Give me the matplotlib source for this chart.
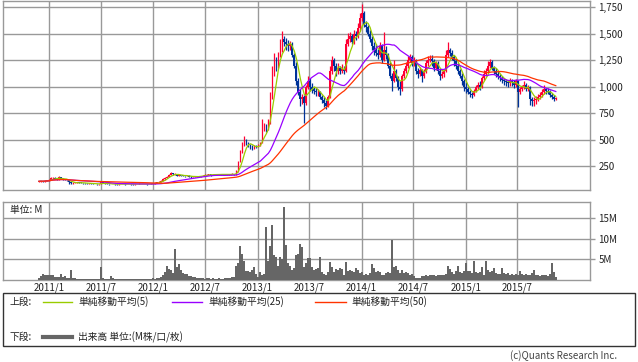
import numpy as np
import pandas as pd
import matplotlib
matplotlib.use('Agg')
import matplotlib.pyplot as plt
import matplotlib.dates as mdates
from matplotlib.patches import Rectangle
from matplotlib.lines import Line2D

plt.rcParams['font.family'] = ['Noto Sans CJK JP', 'DejaVu Sans']

start_date = '2010-11-26'

opens = [
    100, 105, 108, 104, 110, 112, 120, 135, 140, 128,
    125, 145, 130, 122, 118, 115, 95, 85, 90, 92,
    95, 92, 90, 88, 86, 85, 88, 84, 82, 80,
    78, 80, 95, 90, 82, 80, 78, 80, 79, 78,
    77, 78, 80, 79, 78, 80, 79, 78, 77, 78,
    80, 82, 80, 79, 80, 78, 80, 82, 85, 90,
    95, 100, 110, 125, 135, 150, 165, 180, 170, 175,
    160, 165, 160, 158, 155, 160, 150, 145, 148, 150,
    155, 150, 155, 160, 165, 168, 170, 165, 168, 170,
    172, 170, 172, 168, 170, 172, 170, 172, 175, 170,
    200, 290, 380, 460, 500, 470, 440, 430, 420, 440,
    430, 450, 470, 620, 640, 600, 660, 900, 1150, 1250,
    1200, 1300, 1350, 1450, 1420, 1400, 1380, 1400, 1300, 1200,
    1050, 950, 880, 900, 850, 1000, 1050, 1000, 980, 960,
    950, 950, 900, 870, 850, 820, 900, 1150, 1250, 1200,
    1150, 1180, 1150, 1170, 1150, 1400, 1450, 1480, 1420, 1500,
    1480, 1550, 1650, 1700, 1580, 1560, 1500, 1450, 1380, 1350,
    1320, 1300, 1380, 1250, 1350, 1300, 1200, 1100, 1050, 1150,
    1080, 1000, 980, 1100, 1150, 1200, 1250, 1280, 1220, 1250,
    1150, 1120, 1160, 1100, 1150, 1220, 1250, 1260, 1240, 1180,
    1220, 1150, 1100, 1120, 1150, 1300, 1350, 1320, 1280, 1240,
    1200, 1150, 1100, 1050, 1000, 980, 950, 930, 920, 960,
    1000, 1020, 1000, 1080, 1120, 1150, 1200, 1230, 1180, 1150,
    1120, 1100, 1080, 1060, 1050, 1040, 1030, 1050, 1040, 1020,
    1050, 950, 980, 1000, 1020, 980, 1000, 880, 860, 870,
    880, 900, 920, 950, 980, 960, 950, 920, 900, 880,
]

highs = [
    108, 112, 110, 114, 116, 125, 150, 148, 142, 132,
    158, 148, 134, 125, 122, 118, 98, 94, 96, 98,
    98, 95, 92, 90, 89, 92, 90, 86, 84, 82,
    84, 100, 96, 92, 85, 82, 83, 82, 81, 80,
    81, 83, 82, 81, 83, 82, 81, 80, 80, 83,
    85, 84, 82, 82, 82, 83, 85, 88, 94, 100,
    105, 118, 132, 142, 158, 172, 195, 182, 180, 178,
    172, 168, 164, 160, 165, 162, 154, 152, 155, 160,
    158, 160, 165, 170, 172, 175, 172, 172, 175, 176,
    175, 176, 175, 174, 176, 176, 176, 180, 178, 215,
    300, 400, 480, 535, 505, 480, 455, 445, 450, 452,
    460, 480, 690, 660, 650, 690, 950, 1200, 1320, 1280,
    1330, 1450, 1530, 1480, 1460, 1440, 1430, 1420, 1320, 1230,
    1080, 980, 930, 920, 1020, 1100, 1080, 1030, 1000, 990,
    980, 960, 920, 900, 870, 920, 1200, 1290, 1270, 1220,
    1220, 1200, 1210, 1200, 1450, 1510, 1520, 1500, 1540, 1530,
    1600, 1700, 1780, 1720, 1620, 1580, 1540, 1480, 1420, 1400,
    1360, 1420, 1400, 1520, 1380, 1320, 1230, 1130, 1250, 1170,
    1100, 1050, 1120, 1180, 1230, 1290, 1310, 1300, 1280, 1260,
    1180, 1190, 1170, 1170, 1250, 1290, 1300, 1300, 1260, 1240,
    1240, 1180, 1150, 1170, 1350, 1420, 1370, 1350, 1300, 1260,
    1220, 1170, 1130, 1070, 1040, 1000, 970, 950, 980, 1020,
    1040, 1050, 1100, 1160, 1180, 1240, 1265, 1250, 1200, 1180,
    1150, 1120, 1100, 1080, 1070, 1060, 1080, 1070, 1060, 1070,
    1060, 1000, 1020, 1050, 1030, 1020, 1010, 900, 900, 910,
    930, 950, 980, 1020, 990, 990, 970, 940, 920, 900,
]

lows = [
    98, 102, 100, 102, 106, 110, 118, 130, 125, 120,
    122, 128, 118, 114, 110, 80, 76, 82, 86, 88,
    88, 86, 84, 82, 82, 82, 80, 78, 76, 74,
    75, 78, 86, 78, 76, 75, 76, 76, 75, 74,
    74, 76, 76, 75, 76, 76, 75, 74, 75, 76,
    78, 78, 76, 77, 75, 76, 78, 80, 83, 88,
    92, 98, 108, 120, 132, 148, 162, 165, 165, 155,
    156, 155, 152, 150, 152, 145, 140, 142, 145, 148,
    146, 148, 152, 158, 162, 164, 160, 162, 165, 168,
    166, 168, 164, 165, 168, 166, 167, 170, 165, 168,
    195, 285, 370, 440, 450, 430, 415, 405, 415, 420,
    425, 440, 465, 580, 570, 590, 650, 880, 1100, 1150,
    1180, 1280, 1330, 1380, 1350, 1340, 1350, 1280, 1180, 1020,
    920, 820, 840, 660, 830, 980, 960, 940, 930, 910,
    910, 880, 850, 810, 790, 810, 890, 1120, 1150, 1100,
    1120, 1120, 1130, 1120, 1140, 1380, 1420, 1400, 1400, 1440,
    1460, 1530, 1620, 1560, 1520, 1480, 1420, 1350, 1300, 1290,
    1260, 1280, 1220, 1240, 1260, 1180, 1080, 960, 1040, 1050,
    970, 920, 960, 1080, 1130, 1180, 1230, 1200, 1200, 1120,
    1080, 1100, 1040, 1080, 1130, 1200, 1230, 1200, 1150, 1160,
    1120, 1060, 1080, 1090, 1140, 1280, 1290, 1250, 1200, 1170,
    1120, 1080, 1020, 960, 940, 930, 900, 890, 910, 950,
    980, 970, 990, 1060, 1100, 1130, 1180, 1160, 1120, 1090,
    1070, 1050, 1030, 1020, 1010, 1000, 1010, 1010, 990, 1000,
    810, 930, 960, 980, 960, 960, 830, 820, 820, 840,
    860, 880, 900, 930, 930, 930, 900, 880, 860, 870,
]

closes = [
    105, 108, 104, 110, 112, 120, 135, 140, 128, 125,
    145, 130, 122, 118, 115, 95, 85, 90, 92, 95,
    92, 90, 88, 86, 85, 88, 84, 82, 80, 78,
    80, 95, 90, 82, 80, 78, 80, 79, 78, 77,
    78, 80, 79, 78, 80, 79, 78, 77, 78, 80,
    82, 80, 79, 80, 78, 80, 82, 85, 90, 95,
    100, 110, 125, 135, 150, 165, 180, 170, 175, 160,
    165, 160, 158, 155, 160, 150, 145, 148, 150, 155,
    150, 155, 160, 165, 168, 170, 165, 168, 170, 172,
    170, 172, 168, 170, 172, 170, 172, 175, 170, 200,
    290, 380, 460, 500, 470, 440, 430, 420, 440, 430,
    450, 470, 620, 640, 600, 660, 900, 1150, 1250, 1200,
    1300, 1350, 1450, 1420, 1400, 1380, 1400, 1300, 1200, 1050,
    950, 880, 900, 850, 1000, 1050, 1000, 980, 960, 950,
    950, 900, 870, 850, 820, 900, 1150, 1250, 1200, 1150,
    1180, 1150, 1170, 1150, 1400, 1450, 1480, 1420, 1500, 1480,
    1550, 1650, 1700, 1580, 1560, 1500, 1450, 1380, 1350, 1320,
    1300, 1380, 1250, 1350, 1300, 1200, 1100, 1050, 1150, 1080,
    1000, 980, 1100, 1150, 1200, 1250, 1280, 1220, 1250, 1150,
    1120, 1160, 1100, 1150, 1220, 1250, 1260, 1240, 1180, 1220,
    1150, 1100, 1120, 1150, 1300, 1350, 1320, 1280, 1240, 1200,
    1150, 1100, 1050, 1000, 980, 950, 930, 920, 960, 1000,
    1020, 1000, 1080, 1120, 1150, 1200, 1230, 1180, 1150, 1120,
    1100, 1080, 1060, 1050, 1040, 1030, 1050, 1040, 1020, 1050,
    950, 980, 1000, 1020, 980, 1000, 880, 860, 870, 880,
    900, 920, 950, 980, 960, 950, 920, 900, 880, 890,
]

volumes = [
    0.6, 1.0, 1.4, 1.1, 1.1, 1.2, 1.1, 1.1, 0.8, 0.8,
    0.8, 1.4, 0.8, 0.9, 0.5, 0.4, 2.3, 0.6, 0.5, 0.3,
    0.3, 0.2, 0.3, 0.3, 0.2, 0.3, 0.3, 0.2, 0.3, 0.3,
    0.3, 3.1, 0.6, 0.3, 0.2, 0.3, 1.0, 0.5, 0.3, 0.2,
    0.2, 0.2, 0.2, 0.2, 0.2, 0.3, 0.3, 0.2, 0.2, 0.2,
    0.3, 0.2, 0.2, 0.3, 0.2, 0.2, 0.3, 0.4, 0.3, 0.4,
    0.6, 0.8, 1.2, 1.9, 3.3, 2.6, 2.3, 1.8, 7.4, 3.2,
    3.8, 2.4, 1.8, 1.5, 1.5, 1.0, 1.0, 0.8, 0.7, 0.6,
    0.5, 0.4, 0.4, 0.3, 0.5, 0.4, 0.3, 0.5, 0.3, 0.3,
    0.4, 0.3, 0.3, 0.5, 0.6, 0.5, 0.6, 0.7, 0.8, 3.5,
    4.2, 8.1, 6.3, 4.7, 2.2, 2.1, 2.0, 2.4, 3.2, 1.5,
    0.8, 2.0, 1.2, 1.4, 12.8, 4.7, 8.1, 13.2, 6.0, 5.5,
    3.5, 5.5, 5.0, 17.7, 8.4, 4.0, 3.5, 2.3, 3.0, 6.0,
    6.3, 8.6, 8.0, 3.2, 4.0, 5.4, 5.4, 3.2, 2.3, 2.6,
    3.0, 5.5, 2.0, 1.5, 1.2, 2.0, 4.4, 3.2, 2.0, 2.6,
    2.4, 2.8, 2.6, 1.2, 4.4, 2.2, 2.4, 2.2, 2.0, 2.8,
    2.5, 1.6, 2.0, 1.2, 1.4, 1.2, 1.8, 3.9, 2.8, 2.0,
    2.2, 2.0, 1.2, 1.2, 1.6, 2.0, 1.8, 9.6, 3.2, 3.5,
    2.4, 1.8, 2.3, 1.6, 2.0, 1.6, 1.2, 1.4, 0.9, 0.6,
    0.5, 0.6, 1.0, 0.9, 1.2, 1.0, 1.2, 1.1, 1.2, 1.0,
    1.2, 1.1, 1.2, 1.3, 1.5, 3.5, 2.6, 2.0, 1.5, 2.2,
    3.3, 2.0, 1.8, 2.2, 4.0, 2.2, 2.2, 1.8, 4.6, 2.0,
    1.6, 2.0, 3.2, 1.3, 4.7, 2.5, 2.0, 2.2, 3.0, 1.8,
    1.4, 1.5, 2.8, 1.6, 1.4, 1.8, 1.3, 1.5, 1.2, 1.4,
    1.3, 2.1, 1.5, 1.2, 1.4, 1.3, 1.2, 1.6, 2.4, 1.2,
    1.3, 1.0, 1.2, 1.3, 1.1, 1.0, 1.5, 4.2, 1.9, 0.8,
]

price_ticks = [250, 500, 750, 1000, 1250, 1500, 1750]
volume_ticks = [5, 10, 15]
volume_tick_labels = ['5M', '10M', '15M']
date_ticks = ['2011-01-01', '2011-07-01', '2012-01-01', '2012-07-01', '2013-01-01',
              '2013-07-01', '2014-01-01', '2014-07-01', '2015-01-01', '2015-07-01']
date_labels = ['2011/1', '2011/7', '2012/1', '2012/7', '2013/1',
               '2013/7', '2014/1', '2014/7', '2015/1', '2015/7']
ma_windows = [5, 25, 50]
ma_labels = ['単純移動平均(5)', '単純移動平均(25)', '単純移動平均(50)']
ma_colors = ['#99cc00', '#9900ff', '#ff3300']

UP = '#ff0033'
DOWN = '#003399'
GRID = '#999999'
VOLC = '#666666'

dates = pd.date_range(start_date, periods=len(closes), freq='7D')
x = mdates.date2num(dates)
o = np.array(opens, float)
h = np.array(highs, float)
l = np.array(lows, float)
c = np.array(closes, float)
v = np.array(volumes, float)

W, H = 638, 362
fig = plt.figure(figsize=(W / 100, H / 100), dpi=100)

def fbox(left, top, right, bottom):
    return [left / W, 1 - bottom / H, (right - left) / W, (bottom - top) / H]

ax = fig.add_axes(fbox(3, 1, 590, 190))
axv = fig.add_axes(fbox(3, 201.7, 590, 280), sharex=ax)

xmin = mdates.date2num(pd.Timestamp('2010-07-23'))
xmax = mdates.date2num(pd.Timestamp('2016-03-12'))
tick_x = mdates.date2num(pd.to_datetime(date_ticks))

for a in (ax, axv):
    a.set_xlim(xmin, xmax)
    a.set_xticks(tick_x)
    for s in a.spines.values():
        s.set_color(GRID)
        s.set_linewidth(1)
    a.grid(True, color=GRID, linewidth=1)
    a.set_axisbelow(True)
    a.yaxis.tick_right()
    a.tick_params(axis='y', direction='out', length=3.6, width=1, color=GRID,
                  pad=2.5, labelsize=7, labelcolor='#222222')
    a.tick_params(axis='x', length=0, pad=1.5, labelsize=7, labelcolor='#222222')

# candles
up = c >= o
cols = np.where(up, UP, DOWN)
ax.vlines(x, l, h, colors=cols, linewidth=0.9, zorder=3)
body_lo = np.minimum(o, c)
body_h = np.maximum(np.abs(c - o), 4)
ax.bar(x, body_h, bottom=body_lo, width=6.2, color=cols, linewidth=0, zorder=3)

cs = pd.Series(c)
for win, col in zip(ma_windows, ma_colors):
    ma = cs.rolling(win, min_periods=1).mean().values
    ax.plot(x, ma, color=col, linewidth=0.9, zorder=4)

ax.set_ylim(23, 1810)
ax.set_yticks(price_ticks)
ax.set_yticklabels([f'{t:,}' for t in price_ticks])
ax.tick_params(axis='x', labelbottom=False)

axv.bar(x, v, width=7, color=VOLC, linewidth=0, zorder=3)
axv.set_ylim(0, 18.9)
axv.set_yticks(volume_ticks)
axv.set_yticklabels(volume_tick_labels)
axv.set_xticklabels(date_labels)
axv.text(0.012, 0.89, '単位: M', transform=axv.transAxes, fontsize=7,
         ha='left', va='center', color='#222222', zorder=5,
         bbox=dict(facecolor='white', edgecolor='none', pad=1))

# legend box
fig.patches.append(Rectangle((3 / W, 1 - 346 / H), 632 / W, 53 / H,
                             transform=fig.transFigure, facecolor='white',
                             edgecolor='#333333', linewidth=1))
ty1 = 1 - 302 / H
ty2 = 1 - 337 / H
fig.text(10 / W, ty1, '上段:', fontsize=7, va='center', ha='left', color='#222222')
line_pos = [(43, 72, 78), (172, 202, 208), (315, 346, 351)]
for (x0, x1, tx), col, lab in zip(line_pos, ma_colors, ma_labels):
    fig.lines.append(Line2D([x0 / W, x1 / W], [ty1, ty1], transform=fig.transFigure,
                            color=col, linewidth=1))
    fig.text(tx / W, ty1, lab, fontsize=7, va='center', ha='left', color='#222222')
fig.text(10 / W, ty2, '下段:', fontsize=7, va='center', ha='left', color='#222222')
fig.lines.append(Line2D([43 / W, 72 / W], [ty2, ty2], transform=fig.transFigure,
                        color=VOLC, linewidth=3))
fig.text(78 / W, ty2, '出来高 単位:(M株/口/枚)', fontsize=7, va='center', ha='left',
         color='#222222')
fig.text(617 / W, 1 - 356 / H, '(c)Quants Research Inc.', fontsize=7, va='center',
         ha='right', color='#444444')

fig.savefig('out.png', dpi=100)
